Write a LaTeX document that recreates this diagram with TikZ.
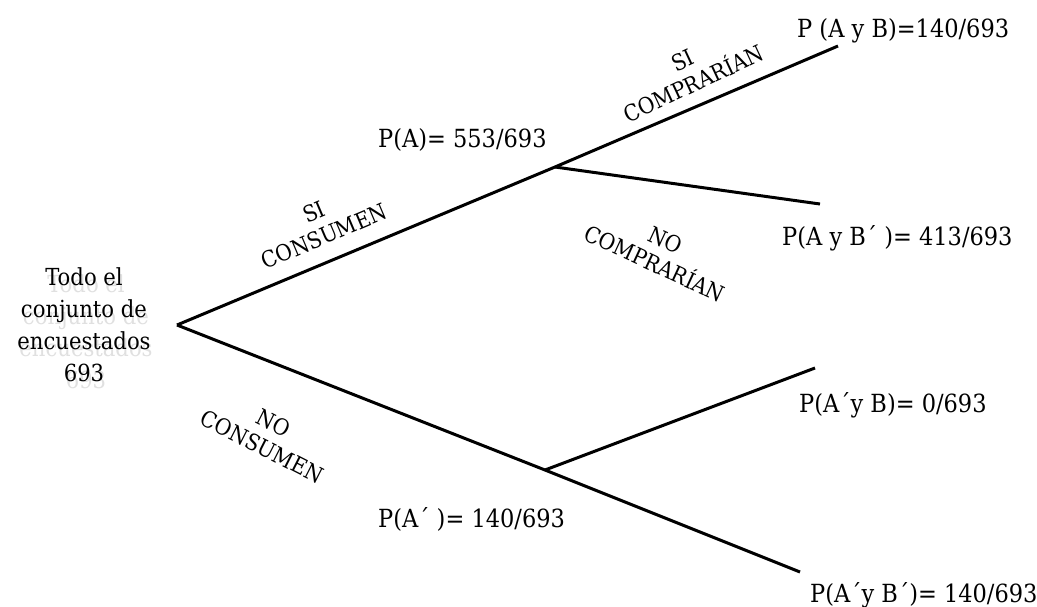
\documentclass[tikz,border=0pt]{standalone}
\usepackage{fontspec}
\setmainfont{DejaVu Serif}[FakeStretch=0.9]
\begin{document}
\begin{tikzpicture}[x=1pt,y=-1pt,
  branch/.style={line width=3pt},
  prob/.style={anchor=base west,inner sep=0pt,font=\fontsize{25}{30}\selectfont},
  lbl/.style={align=center,inner sep=0pt,font=\fontsize{22.5}{26}\selectfont},
  roottxt/.style={align=center,inner sep=0pt,font=\fontsize{23.5}{32}\selectfont}]
\useasboundingbox (0,0) rectangle (1037,606);
% branch points
\coordinate (r) at (177,325);
\coordinate (a) at (555,167);
\coordinate (ab) at (838,46);
\coordinate (abn) at (820,204);
\coordinate (an) at (545,470);
\coordinate (anb) at (815,368);
\coordinate (anbn) at (800,572);
\draw[branch] (r) -- (a) -- (ab);
\draw[branch] (a) -- (abn);
\draw[branch] (r) -- (an) -- (anbn);
\draw[branch] (an) -- (anb);
% root text with shadow
\node[roottxt,text=black!12] (rootsh) at (86,332) {Todo el\\conjunto de\\encuestados\\693};
\node[roottxt] (root) at (84,325) {Todo el\\conjunto de\\encuestados\\693};
% probabilities
\node[prob] (pab) at (797,37) {P (A y B)=140/693};
\node[prob] (pa) at (378,147) {P(A)= 553/693};
\node[prob] (pabn) at (782,245) {P(A y B´ )= 413/693};
\node[prob] (panb) at (799,412) {P(A´y B)= 0/693};
\node[prob] (pan) at (378,527) {P(A´ )= 140/693};
\node[prob] (panbn) at (810,602) {P(A´y B´)= 140/693};
% branch labels
\node[lbl,rotate=23] (l1) at (319,224) {SI\\CONSUMEN};
\node[lbl,rotate=25] (l2) at (688,72) {SI\\COMPRARÍAN};
\node[lbl,rotate=-25] (l3) at (660,252) {NO\\COMPRARÍAN};
\node[lbl,rotate=-27] (l4) at (268,435) {NO\\CONSUMEN};
\end{tikzpicture}
\end{document}
